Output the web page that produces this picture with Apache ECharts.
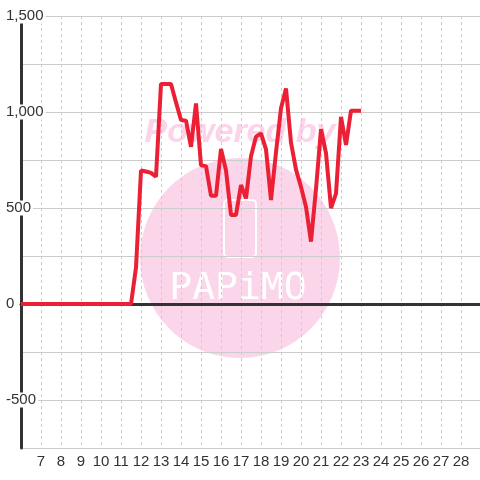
<!DOCTYPE html>
<html>
<head>
<meta charset="utf-8">
<script src="https://cdn.jsdelivr.net/npm/echarts@6/dist/echarts.min.js"></script>
<style>
  html, body { margin: 0; padding: 0; background: #fff; }
  #chart { width: 480px; height: 480px; }
</style>
</head>
<body>
<div id="chart"></div>
<script>
// 时间（小时）和负荷数据
const hours = [6, 11.5, 11.75, 12, 12.25, 12.5, 12.75, 13, 13.25, 13.5, 13.75,
  14, 14.25, 14.5, 14.75, 15, 15.25, 15.5, 15.75, 16, 16.25, 16.5, 16.75,
  17, 17.25, 17.5, 17.75, 18, 18.25, 18.5, 18.75, 19, 19.25, 19.5, 19.75,
  20, 20.25, 20.5, 20.75, 21, 21.25, 21.5, 21.75, 22, 22.25, 22.5, 22.75, 23];
const loads = [0, 0, 190, 695, 690, 683, 663, 1146, 1146, 1146, 1050,
  958, 955, 819, 1045, 722, 718, 564, 564, 807, 695, 464, 464,
  620, 550, 770, 872, 889, 805, 542, 790, 1020, 1123, 840, 700,
  610, 505, 325, 600, 910, 785, 500, 575, 975, 828, 1007, 1007, 1007];

const xTickLabels = [7, 8, 9, 10, 11, 12, 13, 14, 15, 16, 17, 18, 19, 20, 21, 22, 23, 24, 25, 26, 27, 28];
const yTickLabels = [-500, 0, 500, 1000, 1500];

const chart = echarts.init(document.getElementById('chart'));

const fmt = v => String(v).replace(/\B(?=(\d{3})+(?!\d))/g, ',');

const option = {
  backgroundColor: '#fff',
  animation: false,
  textStyle: { fontFamily: 'Liberation Sans, Arial, sans-serif' },
  grid: { left: 21, right: -1, top: 16, bottom: 32, outerBoundsMode: 'none', containLabel: false },
  graphic: [
    { type: 'circle', z: -10, shape: { cx: 240, cy: 258, r: 100 }, style: { fill: '#fbd6eb' } },
    {
      type: 'text', z: -10, x: 240, y: 133,
      style: {
        text: 'Powered by', fill: '#fcd3e9', align: 'center', verticalAlign: 'middle',
        font: 'italic bold 34px "Liberation Sans", Arial, sans-serif'
      }
    },
    {
      type: 'rect', z: -9, shape: { x: 224, y: 200, width: 32, height: 57, r: 4 },
      style: { fill: 'none', stroke: '#fff', lineWidth: 2 }
    },
    {
      type: 'text', z: -9, x: 238, y: 289,
      style: {
        text: 'PAPiMO', fill: '#fff', align: 'center', verticalAlign: 'middle',
        font: '38px "DejaVu Sans Mono", monospace'
      }
    }
  ],
  xAxis: [
    {
      type: 'value',
      min: 6,
      max: 29,
      interval: 1,
      position: 'bottom',
      axisLine: { show: false, onZero: false },
      axisTick: { show: false },
      axisLabel: {
        color: '#333',
        fontSize: 15,
        margin: 6,
        formatter: v => (xTickLabels.includes(v) ? String(v) : '')
      },
      splitLine: { lineStyle: { color: '#ccc', type: [3, 3] } }
    },
    {
      // 零值线
      type: 'value',
      min: 6,
      max: 29,
      position: 'top',
      axisLine: { show: true, onZero: true, lineStyle: { color: '#333', width: 3 } },
      axisTick: { show: false },
      axisLabel: { show: false },
      splitLine: { show: false }
    }
  ],
  yAxis: {
    type: 'value',
    min: -750,
    max: 1500,
    interval: 250,
    axisLine: { show: true, onZero: false, lineStyle: { color: '#333', width: 3 } },
    axisTick: { show: false },
    axisLabel: {
      color: '#333',
      fontSize: 15,
      align: 'left',
      margin: 15,
      backgroundColor: '#fff',
      padding: [0, 2, 0, 0],
      formatter: v => (yTickLabels.includes(v) ? fmt(v) : '')
    },
    splitLine: { lineStyle: { color: '#ccc', width: 1 } }
  },
  series: [
    {
      type: 'line',
      xAxisIndex: 0,
      data: hours.map((h, i) => [h, loads[i]]),
      showSymbol: false,
      lineStyle: { color: '#eb2035', width: 4 },
      itemStyle: { color: '#eb2035' }
    }
  ]
};

chart.setOption(option);
</script>
</body>
</html>
